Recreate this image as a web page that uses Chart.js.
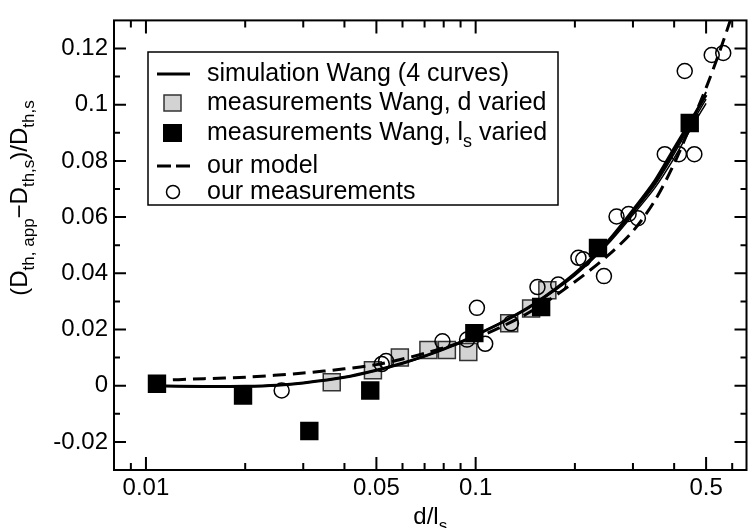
<!DOCTYPE html>
<html><head><meta charset="utf-8">
<script src="https://cdn.jsdelivr.net/npm/chart.js@4/dist/chart.umd.min.js"></script>
<style>html,body{margin:0;padding:0;overflow:hidden;background:#fff}</style>
</head><body>
<div style="width:760px;height:528px"><canvas id="c" width="760" height="528"></canvas></div>
<script>
// ---- data ----
const simX  = [0.0105,0.015,0.02,0.025,0.03,0.04,0.05,0.06,0.07,0.08,0.09,0.1,0.12,0.15,0.2,0.25,0.3,0.35,0.4,0.45,0.5];
const simY1 = [0,-0.0003,-0.0002,0.0002,0.001,0.003,0.0055,0.008,0.0105,0.013,0.0155,0.018,0.0225,0.029,0.040,0.051,0.0625,0.073,0.0845,0.0945,0.1035];
const simY2 = [0,-0.0003,-0.0002,0.0002,0.001,0.003,0.0055,0.008,0.0105,0.013,0.0155,0.018,0.0225,0.029,0.0395,0.0505,0.0615,0.0715,0.0825,0.093,0.102];
const simY3 = [0,-0.0003,-0.0002,0.0002,0.001,0.003,0.0055,0.008,0.0105,0.013,0.0155,0.018,0.0225,0.0288,0.0392,0.050,0.0608,0.0705,0.081,0.0915,0.1005];
const simY4 = [0,-0.0003,-0.0002,0.0002,0.001,0.003,0.0055,0.008,0.0105,0.013,0.0155,0.018,0.0225,0.029,0.0398,0.0508,0.062,0.0722,0.0835,0.094,0.1045];
const modX  = [0.0105,0.015,0.02,0.03,0.04,0.05,0.06,0.07,0.08,0.1,0.12,0.15,0.2,0.25,0.3,0.35,0.4,0.45,0.5,0.55,0.6];
const modY  = [0.0018,0.0025,0.003,0.0045,0.006,0.0075,0.0095,0.0115,0.0135,0.017,0.021,0.027,0.037,0.046,0.055,0.066,0.079,0.093,0.106,0.119,0.132];
const greyX = [0.0366,0.0488,0.0589,0.0719,0.0818,0.0950,0.1264,0.1473,0.165];
const greyY = [0.0012,0.0055,0.010,0.0127,0.0127,0.012,0.0222,0.0275,0.034];
const blackX = [0.0108,0.0197,0.0313,0.0479,0.0991,0.158,0.235,0.446];
const blackY = [0.0007,-0.0035,-0.0161,-0.0017,0.0187,0.028,0.049,0.0935];
const circX = [0.0258,0.0519,0.0535,0.0793,0.0942,0.1009,0.1069,0.128,0.154,0.178,0.205,0.212,0.245,0.2675,0.291,0.3105,0.3747,0.4135,0.4606,0.4307,0.52,0.5636];
const circY = [-0.0017,0.0077,0.0088,0.0158,0.0164,0.0277,0.0149,0.0222,0.0351,0.036,0.0455,0.045,0.039,0.0602,0.0611,0.0596,0.0824,0.0824,0.0824,0.112,0.1177,0.1184];
const xTickValues = [0.01,0.05,0.1,0.5];
const xMinorTicks = [0.009,0.02,0.03,0.04,0.06,0.07,0.08,0.09,0.2,0.3,0.4,0.6];
const yTickValues = [-0.02,0,0.02,0.04,0.06,0.08,0.1,0.12];
const yMinorTicks = [-0.01,0.01,0.03,0.05,0.07,0.09,0.11];
const legendLabels = ['simulation Wang (4 curves)','measurements Wang, d varied','measurements Wang, l','our model','our measurements'];

const pts = (xs, ys) => xs.map((x,i)=>({x:x, y:ys[i]}));
const FONT = '"Liberation Sans", Arial, Helvetica, sans-serif';

function simDS(ys, w){
  return {type:'line', data:pts(simX, ys), borderColor:'#000', borderWidth:w, pointRadius:0, tension:0.3, fill:false, order:3};
}

const overlay = {
  id:'overlay',
  afterDraw(chart){
    const ctx = chart.ctx, a = chart.chartArea, xs = chart.scales.x, ys = chart.scales.y;
    ctx.save();
    ctx.strokeStyle = '#000'; ctx.lineWidth = 2;
    const tx = (v, len) => { const p = xs.getPixelForValue(v);
      ctx.beginPath(); ctx.moveTo(p, a.bottom); ctx.lineTo(p, a.bottom - len);
      ctx.moveTo(p, a.top); ctx.lineTo(p, a.top + len); ctx.stroke(); };
    const ty = (v, len) => { const p = ys.getPixelForValue(v);
      ctx.beginPath(); ctx.moveTo(a.left, p); ctx.lineTo(a.left + len, p);
      ctx.moveTo(a.right, p); ctx.lineTo(a.right - len, p); ctx.stroke(); };
    xTickValues.forEach(v=>tx(v,13)); xMinorTicks.forEach(v=>tx(v,7));
    yTickValues.forEach(v=>ty(v,12)); yMinorTicks.forEach(v=>ty(v,6));
    ctx.strokeRect(a.left, a.top, a.right - a.left, a.bottom - a.top);

    ctx.fillStyle = '#000'; ctx.textBaseline = 'alphabetic';
    const big = '24px ' + FONT, small = '17px ' + FONT;
    const drawRuns = (runs, cx, cy) => {
      let tot = 0;
      runs.forEach(r=>{ ctx.font = r[1] ? small : big; tot += ctx.measureText(r[0]).width; });
      let x = cx - tot/2;
      runs.forEach(r=>{ ctx.font = r[1] ? small : big; ctx.fillText(r[0], x, cy + (r[1]?7:0)); x += ctx.measureText(r[0]).width; });
    };
    drawRuns([['d/l',0],['s',1]], (a.left + a.right)/2, 524);
    ctx.save(); ctx.translate(27, 198); ctx.rotate(-Math.PI/2);
    drawRuns([['(D',0],['th, app',1],['\u2212D',0],['th,s',1],[')/D',0],['th,s',1]], 0, 0);
    ctx.restore();

    const L = {x:148, y:52, w:410, h:153};
    ctx.fillStyle = '#fff'; ctx.fillRect(L.x, L.y, L.w, L.h);
    ctx.lineWidth = 1.5; ctx.strokeStyle = '#000'; ctx.strokeRect(L.x, L.y, L.w, L.h);
    const rows = [74, 103, 133, 166, 192];
    const tx0 = 207;
    const lbig = '25px ' + FONT, lsmall = '18px ' + FONT;
    ctx.fillStyle = '#000'; ctx.font = lbig; ctx.textBaseline = 'middle';
    ctx.fillText(legendLabels[0], tx0, rows[0]);
    ctx.fillText(legendLabels[1], tx0, rows[1]);
    ctx.fillText(legendLabels[2], tx0, rows[2]);
    const wl = ctx.measureText(legendLabels[2]).width;
    ctx.font = lsmall; ctx.fillText('s', tx0 + wl, rows[2] + 9);
    const ws = ctx.measureText('s').width;
    ctx.font = lbig; ctx.fillText(' varied', tx0 + wl + ws, rows[2]);
    ctx.fillText(legendLabels[3], tx0, rows[3]);
    ctx.fillText(legendLabels[4], tx0, rows[4]);
    ctx.lineWidth = 3; ctx.beginPath(); ctx.moveTo(157, rows[0]); ctx.lineTo(190, rows[0]); ctx.stroke();
    ctx.lineWidth = 1.5; ctx.fillStyle = '#d3d3d3'; ctx.fillRect(164, rows[1]-8, 17, 16); ctx.strokeStyle='#333'; ctx.strokeRect(164, rows[1]-8, 17, 16);
    ctx.fillStyle = '#000'; ctx.fillRect(163, rows[2]-9, 19, 18);
    ctx.strokeStyle='#000'; ctx.lineWidth = 3; ctx.setLineDash([14,5]); ctx.beginPath(); ctx.moveTo(157, rows[3]); ctx.lineTo(190, rows[3]); ctx.stroke(); ctx.setLineDash([]);
    ctx.lineWidth = 1.5; ctx.beginPath(); ctx.arc(173, rows[4], 6.5, 0, Math.PI*2); ctx.stroke();
    ctx.restore();
  }
};

new Chart(document.getElementById('c'), {
  type:'scatter',
  data:{ datasets:[
    {label:'measurements Wang, d varied', data:pts(greyX, greyY), pointStyle:'rect', pointRadius:12, pointBackgroundColor:'#d3d3d3', pointBorderColor:'#333', pointBorderWidth:1.5, showLine:false, order:5},
    simDS(simY1, 3), simDS(simY2, 1.5), simDS(simY3, 1.5), simDS(simY4, 2),
    {type:'line', label:'our model', data:pts(modX, modY), borderColor:'#000', borderWidth:3, borderDash:[13,7], pointRadius:0, tension:0.3, fill:false, order:3},
    {label:'measurements Wang, ls varied', data:pts(blackX, blackY), pointStyle:'rect', pointRadius:13, pointBackgroundColor:'#000', pointBorderColor:'#000', pointBorderWidth:0, showLine:false, order:2},
    {label:'our measurements', data:pts(circX, circY), pointStyle:'circle', pointRadius:7.5, pointBackgroundColor:'rgba(0,0,0,0)', pointBorderColor:'#000', pointBorderWidth:1.5, showLine:false, order:1}
  ]},
  options:{
    responsive:false, maintainAspectRatio:false, animation:false, devicePixelRatio:1,
    layout:{padding:{left:0, top:14, right:3, bottom:0}},
    plugins:{legend:{display:false}, tooltip:{enabled:false}},
    scales:{
      x:{type:'logarithmic', min:0.008, max:0.663, position:'bottom',
        afterBuildTicks:(s)=>{ s.ticks = xTickValues.map(v=>({value:v})); },
        afterFit:(s)=>{ s.height = 58; },
        grid:{display:false, drawTicks:false}, border:{display:false},
        ticks:{autoSkip:false, maxRotation:0, padding:4, color:'#000', font:{family:FONT, size:24}, callback:(v)=>String(v)}},
      y:{type:'linear', min:-0.03, max:0.13,
        afterBuildTicks:(s)=>{ s.ticks = yTickValues.map(v=>({value:v})); },
        afterFit:(s)=>{ s.width = 114; },
        grid:{display:false, drawTicks:false}, border:{display:false},
        ticks:{autoSkip:false, padding:6, color:'#000', font:{family:FONT, size:24}, callback:(v)=>String(v)}}
    }
  },
  plugins:[overlay]
});
</script>
</body></html>
